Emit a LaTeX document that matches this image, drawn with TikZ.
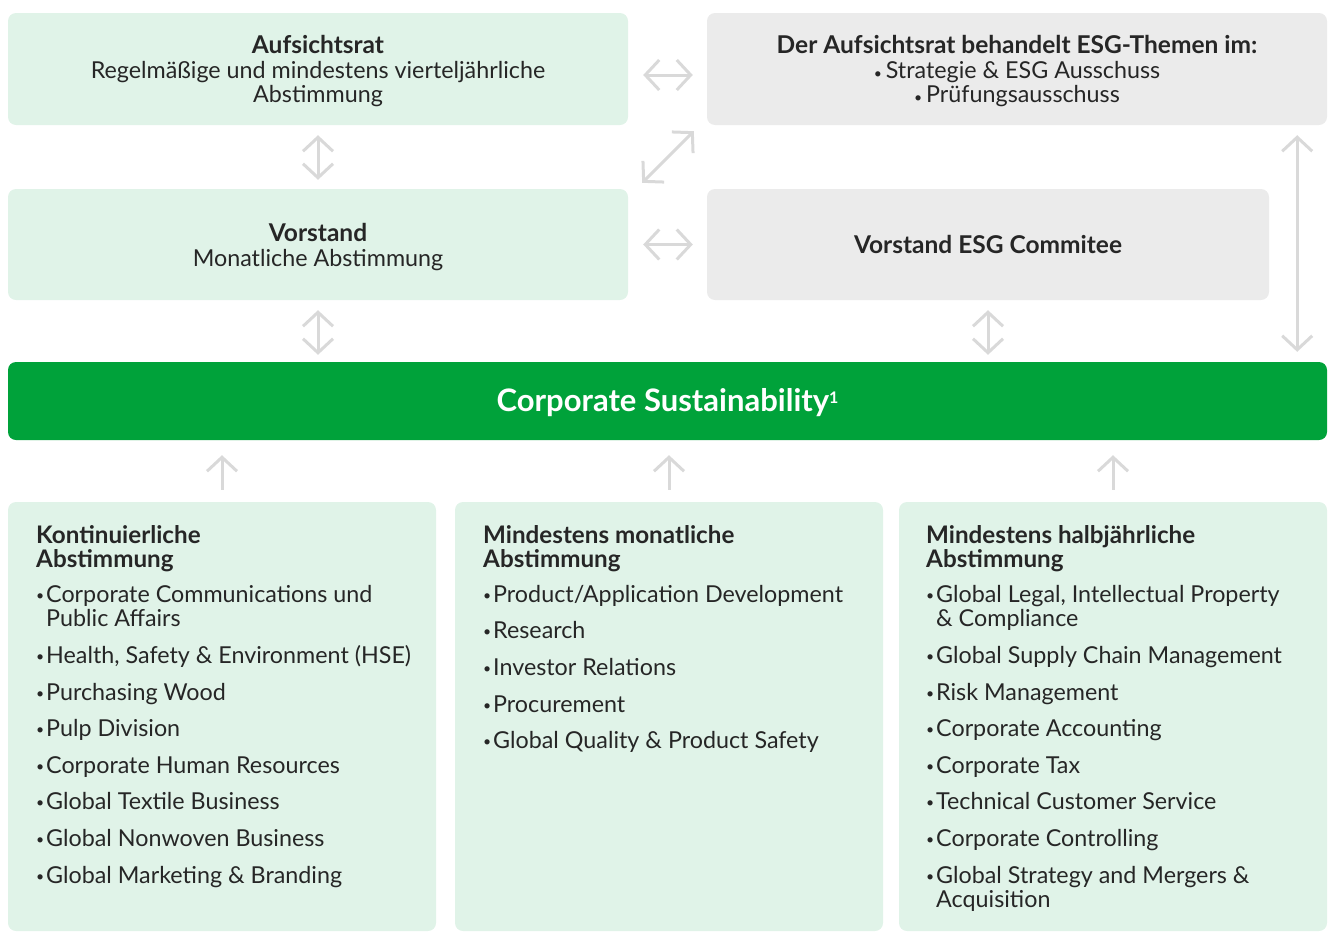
\documentclass[tikz,border=0pt]{standalone}
\usepackage{fontspec}
\setmainfont{Lato}
\usetikzlibrary{arrows.meta,calc}
\definecolor{lgreen}{HTML}{E0F3E8}
\definecolor{lgray}{HTML}{EBEBEB}
\definecolor{cgreen}{HTML}{00A23A}
\definecolor{agray}{HTML}{D9D9D9}
\definecolor{txt}{HTML}{262626}
\newcommand\bl{\makebox[0pt][r]{\raisebox{0.15ex}{\fontsize{14}{14}\selectfont •}\hspace{2pt}}}
\newcommand\sbul{{\fontsize{14}{14}\selectfont •}\,}
\begin{document}
\begin{tikzpicture}[x=1pt,y=-1pt,
  gbox/.style={fill=lgreen, rounded corners=8pt, inner sep=0pt},
  ybox/.style={fill=lgray, rounded corners=8pt, inner sep=0pt},
  boxtext/.style={text=txt, align=center, font=\fontsize{23.3}{24.5}\selectfont, yshift=-2.5pt},
  head/.style={text=txt, anchor=base west, inner sep=0pt, font=\bfseries\fontsize{24.2}{24.5}\selectfont},
  item/.style={text=txt, anchor=base west, inner sep=0pt, font=\fontsize{23.3}{24.5}\selectfont},
  tipb/.tip={Straight Barb[length=14pt,width=30pt]},
  dbl/.style={draw=agray, line width=3pt, tipb-tipb},
  uparr/.style={draw=agray, line width=3pt, -tipb}]
\useasboundingbox (0,0) rectangle (1328,932);
% boxes
\node[gbox, minimum width=620pt, minimum height=112pt] (A) at (318,69) {};
\node[ybox, minimum width=620pt, minimum height=112pt] (B) at (1017,69) {};
\node[gbox, minimum width=620pt, minimum height=111pt] (C) at (318,244.5) {};
\node[ybox, minimum width=562pt, minimum height=111pt] (D) at (988,244.5) {};
\node[fill=cgreen, rounded corners=8pt, inner sep=0pt, minimum width=1319pt, minimum height=78pt] (G) at (667.5,401) {};
\node[gbox, minimum width=428pt, minimum height=429pt] (L) at (222,716.5) {};
\node[gbox, minimum width=428pt, minimum height=429pt] (M) at (669,716.5) {};
\node[gbox, minimum width=428pt, minimum height=429pt] (R) at (1113,716.5) {};
% box texts
\node[boxtext] (At) at (A.center) {{\bfseries\fontsize{24.5}{24.5}\selectfont Aufsichtsrat}\\Regelmäßige und mindestens vierteljährliche\\Abstimmung};
\node[boxtext] (Bt) at (B.center) {{\bfseries\fontsize{24.5}{24.5}\selectfont Der Aufsichtsrat behandelt ESG-Themen im:}\\\sbul Strategie \& ESG Ausschuss\\\sbul Prüfungsausschuss};
\node[boxtext] (Ct) at (C.center) {{\bfseries\fontsize{24.5}{24.5}\selectfont Vorstand}\\Monatliche Abstimmung};
\node[boxtext, yshift=2.5pt] (Dt) at (D.center) {{\bfseries\fontsize{24.5}{24.5}\selectfont Vorstand ESG Commitee}};
\node[text=white, font=\bfseries\fontsize{31}{31}\selectfont, yshift=-1.5pt] (Gt) at (G.center) {Corporate Sustainability\raisebox{8pt}{\fontsize{16}{16}\selectfont 1}};
% arrows
\draw[dbl] ($(A.east)+(15,6)$) -- ($(B.west)+(-14,6)$);
\draw[dbl] ([yshift=-10pt]A.south) -- ([yshift=9pt]C.north);
\draw[dbl] ($(C.north east)+(14,-6)$) -- ($(B.south west)+(-13,6)$);
\draw[dbl] ($(C.east)+(15,0)$) -- ($(D.west)+(-14,0)$);
\draw[dbl] ([yshift=-10pt]C.south) -- ([yshift=7pt]G.north -| C.south);
\draw[dbl] ([yshift=-10pt]D.south) -- ([yshift=7pt]G.north -| D.south);
\draw[dbl] ($(B.south east)+(-30,10)$) -- ($(G.north east)+(-30,-10)$);
\draw[uparr] ([yshift=12pt]L.north) -- ($(L.north |- G.south)+(0,15)$);
\draw[uparr] ([yshift=12pt]M.north) -- ($(M.north |- G.south)+(0,15)$);
\draw[uparr] ([yshift=12pt]R.north) -- ($(R.north |- G.south)+(0,15)$);
% left list
\node[head] (Lh1) at (36,543) {Kontinuierliche};
\node[head] (Lh2) at (36,567) {Abstimmung};
\node[item] (L1) at (46,602) {\bl Corporate Communications und};
\node[item] (L1b) at (46,626) {Public Affairs};
\node[item] (L2) at (46,663) {\bl Health, Safety \& Environment (HSE)};
\node[item] (L3) at (46,700) {\bl Purchasing Wood};
\node[item] (L4) at (46,736) {\bl Pulp Division};
\node[item] (L5) at (46,773) {\bl Corporate Human Resources};
\node[item] (L6) at (46,809) {\bl Global Textile Business};
\node[item] (L7) at (46,846) {\bl Global Nonwoven Business};
\node[item] (L8) at (46,883) {\bl Global Marketing \& Branding};
% middle list
\node[head] (Mh1) at (483,543) {Mindestens monatliche};
\node[head] (Mh2) at (483,567) {Abstimmung};
\node[item] (M1) at (493,602) {\bl Product/Application Development};
\node[item] (M2) at (493,638) {\bl Research};
\node[item] (M3) at (493,675) {\bl Investor Relations};
\node[item] (M4) at (493,712) {\bl Procurement};
\node[item] (M5) at (493,748) {\bl Global Quality \& Product Safety};
% right list
\node[head] (Rh1) at (926,543) {Mindestens halbjährliche};
\node[head] (Rh2) at (926,567) {Abstimmung};
\node[item] (R1) at (936,602) {\bl Global Legal, Intellectual Property};
\node[item] (R1b) at (936,626) {\& Compliance};
\node[item] (R2) at (936,663) {\bl Global Supply Chain Management};
\node[item] (R3) at (936,700) {\bl Risk Management};
\node[item] (R4) at (936,736) {\bl Corporate Accounting};
\node[item] (R5) at (936,773) {\bl Corporate Tax};
\node[item] (R6) at (936,809) {\bl Technical Customer Service};
\node[item] (R7) at (936,846) {\bl Corporate Controlling};
\node[item] (R8) at (936,883) {\bl Global Strategy and Mergers \&};
\node[item] (R8b) at (936,907) {Acquisition};
\end{tikzpicture}
\end{document}
